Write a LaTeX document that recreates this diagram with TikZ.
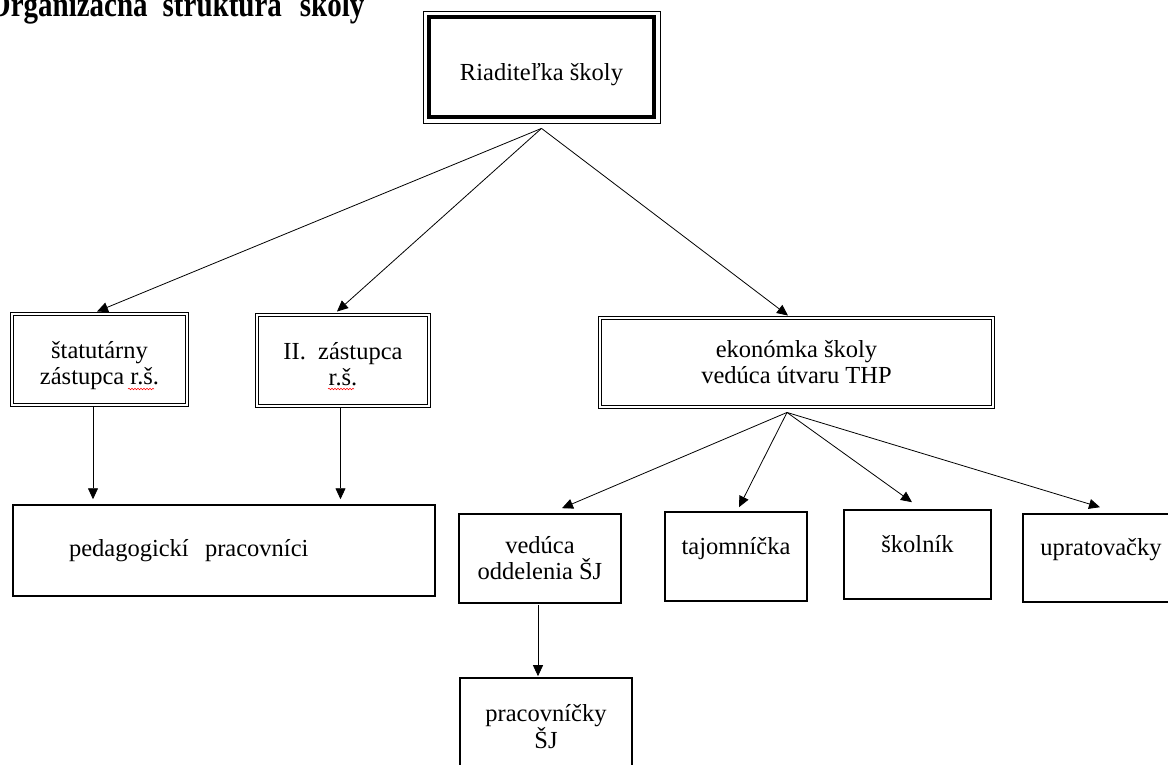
\documentclass[tikz,border=0pt]{standalone}
\usepackage{fontspec}
\setmainfont{Liberation Serif}
\usetikzlibrary{arrows.meta,decorations.pathmorphing}

\tikzset{
  pole/.style={draw, line width=1.6pt, inner sep=0pt, align=center, font=\fontsize{24.5}{26}\selectfont},
  dvoj/.style={pole, line width=0.9pt, double, double distance=2.2pt},
  hore/.style={text height=17pt, text depth=22pt},
  sipka/.style={-{Triangle[length=11pt,width=10pt]}, line width=0.8pt},
  vlnka/.style={red, line width=0.5pt, decorate, decoration={snake, amplitude=0.8pt, segment length=3pt}},
}

\begin{document}
\begin{tikzpicture}[x=1pt, y=-1pt]
  \useasboundingbox (0,0) rectangle (1168,765);
  \node[anchor=base west, inner sep=0pt, font=\fontsize{29}{32}\selectfont\bfseries] (nadpis) at (-12,17)
    {\scalebox{1}[1.2]{Organizačná\hspace{15pt}štruktúra\hspace{18pt}školy}};

  \node[pole, line width=0.8pt, minimum width=237pt, minimum height=112pt, text height=32pt] (riad) at (541.5,67) {Riaditeľka školy};
  \draw[line width=4pt] ([shift={(6pt,-6pt)}]riad.north west) rectangle ([shift={(-6pt,6pt)}]riad.south east);

  \node[dvoj, minimum width=175pt, minimum height=91pt, text height=55pt, text depth=5pt] (stat) at (99.5,359.5) {štatutárny\\ zástupca r.š.};
  \node[dvoj, minimum width=172pt, minimum height=91pt, text height=55pt, text depth=5pt] (zast) at (343,360.5) {II.~ zástupca\\ r.š.};
  \node[dvoj, minimum width=393pt, minimum height=89pt] (ekon) at (796.5,362.5) {ekonómka školy\\ vedúca útvaru THP};

  \node[pole, line width=1.5pt, text width=422pt, align=left, minimum height=91pt] (ped) at (224,550.5) {\hspace*{56pt}pedagogickí~ pracovníci};
  \node[pole, minimum width=162pt, minimum height=89pt] (ved) at (540,558.5) {vedúca\\ oddelenia ŠJ};
  \node[pole, hore, minimum width=142pt, minimum height=89pt] (taj) at (736,556.5) {tajomníčka};
  \node[pole, hore, minimum width=147pt, minimum height=89pt] (skol) at (917.5,554.5) {školník};
  \node[pole, hore, minimum width=156pt, minimum height=88pt] (uprat) at (1101,558) {upratovačky};
  \node[pole, minimum width=172pt, minimum height=97pt] (prac) at (546,726.5) {pracovníčky\\ ŠJ};

  \draw[vlnka] (128,389) -- (154,389);
  \draw[vlnka] (328,389) -- (354,389);

  \coordinate (r0) at ([yshift=-5pt]riad.south);
  \draw[sipka] (r0) -- ([xshift=-2.5pt,yshift=2pt]stat.north);
  \draw[sipka] (r0) -- ([xshift=-6pt,yshift=3pt]zast.north);
  \draw[sipka] (r0) -- ([xshift=-8.5pt,yshift=2pt]ekon.north);

  \coordinate (e0) at ([xshift=-9.5pt,yshift=-5pt]ekon.south);
  \draw[sipka] (e0) -- ([xshift=22pt,yshift=5pt]ved.north);
  \draw[sipka] (e0) -- ([xshift=3pt,yshift=4pt]taj.north);
  \draw[sipka] (e0) -- ([xshift=-5.5pt,yshift=7pt]skol.north);
  \draw[sipka] (e0) -- ([xshift=-1pt,yshift=6pt]uprat.north);

  \coordinate (s1) at ([xshift=-6.5pt,yshift=-2pt]stat.south);
  \coordinate (s2) at ([xshift=-2.5pt,yshift=-2pt]zast.south);
  \coordinate (s3) at ([xshift=-2pt,yshift=-1pt]ved.south);
  \draw[sipka, shorten >=5pt] (s1) -- (s1 |- ped.north);
  \draw[sipka, shorten >=5pt] (s2) -- (s2 |- ped.north);
  \draw[sipka, shorten >=1pt] (s3) -- (s3 |- prac.north);
\end{tikzpicture}
\end{document}
